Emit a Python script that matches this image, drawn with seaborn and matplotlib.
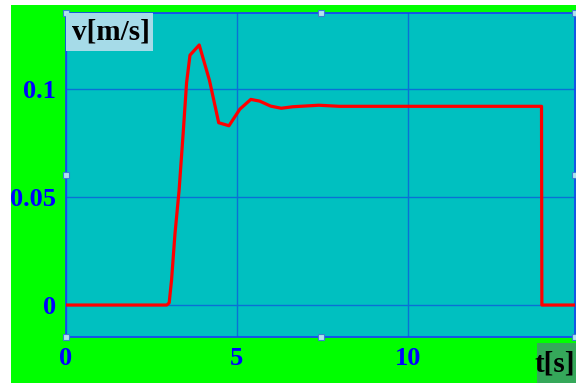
import matplotlib
matplotlib.use("Agg")
import matplotlib.pyplot as plt
import seaborn as sns
import pandas as pd
from matplotlib.patches import Rectangle

# data
t = [0, 1, 2, 2.95, 3.02, 3.09, 3.19, 3.31, 3.43, 3.53, 3.63, 3.9, 4.2, 4.47, 4.77,
     5.09, 5.41, 5.67, 5.99, 6.3, 6.64, 7.4, 8.0, 13.92, 13.93, 14.9]
v = [0, 0, 0, 0, 0.001, 0.0116, 0.033, 0.053, 0.0796, 0.103, 0.1157, 0.1204, 0.104,
     0.0844, 0.083, 0.0907, 0.0952, 0.0944, 0.0921, 0.0911, 0.0918, 0.0925, 0.092,
     0.092, 0, 0]
xticks = [0, 5, 10]
yticks = [0, 0.05, 0.1]
ytick_labels = ["0", "0.05", "0.1"]

df = pd.DataFrame({"t": t, "v": v})

W, H = 576, 383
fig = plt.figure(figsize=(W / 100, H / 100), dpi=100, facecolor="white")
bg = fig.add_axes([11 / W, 0, 1 - 11 / W, (H - 5) / H], zorder=0)
bg.set_facecolor("#00ff00")
bg.set_xticks([])
bg.set_yticks([])
for s in bg.spines.values():
    s.set_visible(False)

ax = fig.add_axes([66 / W, (H - 337) / H, (575 - 66) / W, (337 - 13) / H], zorder=2)
ax.set_facecolor("#00c0c0")

sns.lineplot(data=df, x="t", y="v", ax=ax, color="#ff0000", linewidth=2.3,
             sort=False, estimator=None, zorder=3)

ax.set_xlim(0, 14.9)
ax.set_ylim(-0.0148, 0.1352)
ax.set_xticks(xticks)
ax.set_xticklabels([str(x) for x in xticks])
ax.set_yticks(yticks)
ax.set_yticklabels(ytick_labels)
ax.grid(True, color="#0a6fd6", linewidth=1.0, zorder=1)
ax.set_axisbelow(True)
ax.set_xlabel("")
ax.set_ylabel("")
for s in ax.spines.values():
    s.set_color("#1a3cff")
    s.set_linewidth(1.2)
ax.tick_params(length=0, labelcolor="#0000ff", pad=7)
for lab in ax.get_xticklabels() + ax.get_yticklabels():
    lab.set_fontfamily("Liberation Serif")
    lab.set_fontweight("bold")
    lab.set_fontsize(19)

# y label box (top-left inside axes)
fig.patches.append(Rectangle((66 / W, (H - 51) / H), (153 - 66) / W, 38 / H,
                             transform=fig.transFigure, facecolor="#a6dbe8",
                             edgecolor="none", zorder=10))
fig.text(72 / W, (H - 32) / H, "v[m/s]", ha="left", va="center",
         fontfamily="Liberation Serif", fontweight="bold", fontsize=21, color="black",
         zorder=11)
# x label box (bottom-right)
fig.patches.append(Rectangle((537 / W, 0), (576 - 537) / W, 40 / H,
                             transform=fig.transFigure, facecolor="#35a85a",
                             edgecolor="none", zorder=10))
fig.text(575 / W, 19 / H, "t[s]", ha="right", va="center",
         fontfamily="Liberation Serif", fontweight="bold", fontsize=21, color="black",
         zorder=11)

# selection handles
hx = [0, 0.5, 1, 0, 1, 0, 0.5, 1]
hy = [1, 1, 1, 0.5, 0.5, 0, 0, 0]
ax.plot(hx, hy, linestyle="none", marker="s", markersize=5, markerfacecolor="#b0e4ee",
        markeredgecolor="#3a7fd0", markeredgewidth=0.8, transform=ax.transAxes,
        clip_on=False, zorder=6)

fig.savefig("out.png", dpi=100, facecolor="white")
